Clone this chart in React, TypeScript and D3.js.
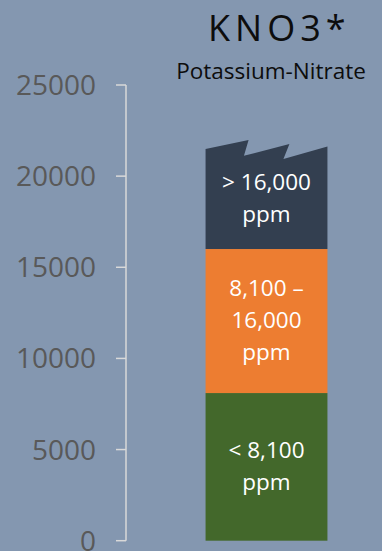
import React from "react";
import * as d3 from "d3";

// Stacked concentration bands for potassium nitrate (ppm)
const category = "KNO3";
const bandNames = ["low", "mid", "high"];
const bandStarts = [0, 8100, 16000];
const bandEnds = [8100, 16000, 21500];
const bandColors = ["#43682B", "#ED7D31", "#333F50"];
const bandLabels = [
  ["< 8,100", "ppm"],
  ["8,100 –", "16,000", "ppm"],
  ["> 16,000", "ppm"],
];

// Broken top edge of the last band: fraction across the bar, value in ppm
const breakFractions = [0, 0.353, 0.315, 0.688, 0.639, 1];
const breakValues = [21490, 21980, 21120, 21760, 20940, 21620];

const yTicks = [0, 5000, 10000, 15000, 20000, 25000];

const W = 382;
const H = 551;
const FONT = "'Open Sans', 'DejaVu Sans', sans-serif";

export default function App() {
  const y = d3.scaleLinear().domain([0, 25000]).range([540.7, 85]);
  const x = d3.scaleBand<string>().domain([category]).range([126, 407]).padding(0.395);
  const x0 = x(category) as number;
  const bw = x.bandwidth();
  const axisX = 126;

  const lastIdx = bandNames.length - 1;
  const topPath = (() => {
    const p = d3.path();
    p.moveTo(x0, y(bandStarts[lastIdx]));
    breakFractions.forEach((f, i) => p.lineTo(x0 + f * bw, y(breakValues[i])));
    p.lineTo(x0 + bw, y(bandStarts[lastIdx]));
    p.closePath();
    return p.toString();
  })();

  const lineGap = 32;

  return (
    <svg
      width={W}
      height={H}
      style={{ position: "absolute", left: 0, top: 0, display: "block" }}
    >
      <rect x={0} y={0} width={W} height={H} fill="#8497B0" />

      {/* title */}
      <text x={208} y={41} fontFamily={FONT} fontSize={36} letterSpacing={5} fill="#0d0d0d">
        KNO3*
      </text>
      <text x={271} y={79} fontFamily={FONT} fontSize={22.5} textAnchor="middle" fill="#0d0d0d">
        Potassium-Nitrate
      </text>

      {/* value axis */}
      <line x1={axisX} x2={axisX} y1={y(25000)} y2={y(0)} stroke="#D9D9D9" strokeWidth={1.5} />
      {yTicks.map((t) => (
        <g key={t}>
          <line x1={axisX - 10} x2={axisX} y1={y(t)} y2={y(t)} stroke="#D9D9D9" strokeWidth={1.5} />
          <text
            x={96}
            y={y(t) + 10}
            textAnchor="end"
            fontFamily={FONT}
            fontSize={28}
            fill="#595959"
          >
            {t}
          </text>
        </g>
      ))}

      {/* bands */}
      {bandNames.map((name, i) =>
        i === lastIdx ? (
          <path key={name} d={topPath} fill={bandColors[i]} />
        ) : (
          <rect
            key={name}
            x={x0}
            width={bw}
            y={y(bandEnds[i])}
            height={y(bandStarts[i]) - y(bandEnds[i])}
            fill={bandColors[i]}
          />
        )
      )}

      {/* band labels */}
      {bandNames.map((name, i) => {
        const lines = bandLabels[i];
        const cy = (y(bandStarts[i]) + y(bandEnds[i])) / 2;
        const first = cy - ((lines.length - 1) * lineGap) / 2 + 7;
        return (
          <text
            key={name + "-label"}
            textAnchor="middle"
            fontFamily={FONT}
            fontSize={22.5}
            fill="#ffffff"
          >
            {lines.map((ln, j) => (
              <tspan key={j} x={x0 + bw / 2} y={first + j * lineGap}>
                {ln}
              </tspan>
            ))}
          </text>
        );
      })}
    </svg>
  );
}
